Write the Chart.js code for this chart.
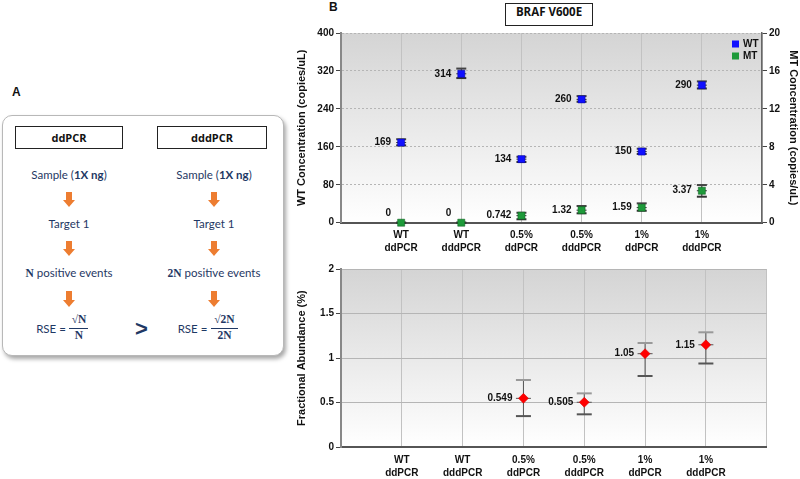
<!DOCTYPE html>
<html>
<head>
<meta charset="utf-8">
<script src="https://cdn.jsdelivr.net/npm/chart.js@4.4.0/dist/chart.umd.min.js"></script>
<style>
  body { margin: 0; width: 800px; height: 479px; overflow: hidden; position: relative; background: #fff; font-family: Lato, "Open Sans", sans-serif; }
  .abs { position: absolute; }
  .panel-letter { font: bold 12px "Liberation Sans", Arial, sans-serif; color: #111; }
  .frame { left: 2px; top: 115px; width: 280px; height: 239px; border: 1.5px solid #b8b8b8; border-radius: 10px; box-shadow: 2px 3px 4px rgba(0,0,0,0.35); background: #fff; }
  .head { height: 21px; border: 1.5px solid #222; font: bold 11px "Open Sans", sans-serif; color: #111; text-align: center; line-height: 21px; background: #fff; }
  .step { width: 140px; text-align: center; color: #1f3864; font-size: 11.5px; line-height: 14px; }
  .math { font-family: "Liberation Serif", "DejaVu Serif", serif; font-weight: bold; }
  .frac { text-align: center; color: #1f3864; font: bold 11.5px "Liberation Serif", serif; line-height: 13px; }
  .bar { height: 1px; background: #1f3864; }
  .title-box { left: 505px; top: 3px; width: 86px; height: 21px; border: 1.5px solid #222; text-align: center; line-height: 21px; font: bold 11.5px "Open Sans", sans-serif; color: #111; background: #fff; }
  canvas { position: absolute; }
</style>
</head>
<body>
<!-- panel A -->
<div class="abs panel-letter" style="left:12px;top:85px">A</div>
<div class="abs frame"></div>
<div class="abs head" style="left:15px;top:126px;width:106px">ddPCR</div>
<div class="abs head" style="left:157px;top:126px;width:108px">dddPCR</div>

<div class="abs step" style="left:-1px;top:168px">Sample (<b>1X ng</b>)</div>
<div class="abs step" style="left:144px;top:168px">Sample (<b>1X ng</b>)</div>
<div class="abs step" style="left:-1px;top:217px">Target 1</div>
<div class="abs step" style="left:144px;top:217px">Target 1</div>
<div class="abs step" style="left:-1px;top:266px"><span class="math">N</span> positive events</div>
<div class="abs step" style="left:144px;top:266px"><span class="math">2N</span> positive events</div>

<svg class="abs" style="left:63px;top:192px" width="12" height="16"><polygon points="3,0 9,0 9,8 12,8 6,15 0,8 3,8" fill="#ed7d31"/></svg>
<svg class="abs" style="left:208px;top:192px" width="12" height="16"><polygon points="3,0 9,0 9,8 12,8 6,15 0,8 3,8" fill="#ed7d31"/></svg>
<svg class="abs" style="left:63px;top:241px" width="12" height="16"><polygon points="3,0 9,0 9,8 12,8 6,15 0,8 3,8" fill="#ed7d31"/></svg>
<svg class="abs" style="left:208px;top:241px" width="12" height="16"><polygon points="3,0 9,0 9,8 12,8 6,15 0,8 3,8" fill="#ed7d31"/></svg>
<svg class="abs" style="left:63px;top:291px" width="12" height="17"><polygon points="3,0 9,0 9,9 12,9 6,16 0,9 3,9" fill="#ed7d31"/></svg>
<svg class="abs" style="left:208px;top:291px" width="12" height="17"><polygon points="3,0 9,0 9,9 12,9 6,16 0,9 3,9" fill="#ed7d31"/></svg>

<div class="abs step" style="left:-4px;top:322px;width:110px">RSE =</div>
<div class="abs frac" style="left:69px;top:313px;width:20px">√N</div>
<div class="abs bar" style="left:69px;top:328px;width:19px"></div>
<div class="abs frac" style="left:69px;top:329px;width:20px">N</div>
<div class="abs" style="left:135px;top:316px;font:bold 22px 'Liberation Sans',sans-serif;color:#1f3864">&gt;</div>
<div class="abs step" style="left:150px;top:322px;width:85px">RSE =</div>
<div class="abs frac" style="left:211px;top:313px;width:27px">√2N</div>
<div class="abs bar" style="left:211px;top:328px;width:27px"></div>
<div class="abs frac" style="left:211px;top:329px;width:27px">2N</div>

<!-- panel B -->
<div class="abs panel-letter" style="left:329px;top:0px">B</div>
<canvas id="conc" width="550" height="262" style="left:250px;top:0px"></canvas>
<canvas id="frac" width="550" height="221" style="left:250px;top:258px"></canvas>
<div class="abs title-box">BRAF V600E</div>

<script>
// categories and values
const categories = [["WT", "ddPCR"], ["WT", "dddPCR"], ["0.5%", "ddPCR"], ["0.5%", "dddPCR"], ["1%", "ddPCR"], ["1%", "dddPCR"]];
const wtValues = [169, 314, 134, 260, 150, 290];
const wtLow = [163, 305, 128, 255, 145, 283];
const wtHigh = [176, 325, 139, 267, 156, 298];
const mtValues = [0, 0, 0.742, 1.32, 1.59, 3.37];
const mtLow = [0, 0, 0.36, 0.99, 1.26, 2.74];
const mtHigh = [0, 0, 1.05, 1.76, 2.04, 3.97];
const fracValues = [null, null, 0.549, 0.505, 1.05, 1.15];
const fracLow = [null, null, 0.35, 0.37, 0.80, 0.94];
const fracHigh = [null, null, 0.755, 0.605, 1.17, 1.29];
const wtTicks = [0, 80, 160, 240, 320, 400];
const mtTicks = [0, 4, 8, 12, 16, 20];
const fracTicks = [0, 0.5, 1, 1.5, 2];
const xTicks = [-1, 0, 1, 2, 3, 4, 5, 6];

const boldFont = { family: "Liberation Sans", size: 10, weight: "bold" };
const titleFont = { family: "Liberation Sans", size: 11, weight: "bold" };

const points = (vals) => vals.map((v, i) => ({ x: i, y: v })).filter(p => p.y !== null);

// grey-to-white plot background
const plotBg = {
    id: "plotBg",
    beforeDraw(chart) {
        const { ctx, chartArea: a } = chart;
        const g = ctx.createLinearGradient(0, a.top, 0, a.bottom);
        g.addColorStop(0, "#d4d4d4");
        g.addColorStop(1, "#ffffff");
        ctx.save();
        ctx.fillStyle = g;
        ctx.fillRect(a.left, a.top, a.right - a.left, a.bottom - a.top);
        ctx.restore();
    }
};

// error bars from errLow / errHigh on each dataset
const errorBars = {
    id: "errorBars",
    beforeDatasetsDraw(chart) {
        const ctx = chart.ctx;
        chart.data.datasets.forEach(ds => {
            if (!ds.errLow) return;
            const xs = chart.scales.x;
            const ys = chart.scales[ds.yAxisID || "y"];
            const w = ds.capWidth / 2;
            ds.data.forEach(p => {
                const x = xs.getPixelForValue(p.x);
                const yv = ys.getPixelForValue(p.y);
                const lo = ys.getPixelForValue(ds.errLow[p.x]);
                const hi = ys.getPixelForValue(ds.errHigh[p.x]);
                ctx.save();
                ctx.strokeStyle = ds.errColor;
                ctx.lineWidth = 1;
                ctx.beginPath();
                ctx.moveTo(x, hi); ctx.lineTo(x, lo);
                ctx.moveTo(x - w, yv); ctx.lineTo(x + w, yv);
                ctx.stroke();
                ctx.lineWidth = 2;
                ctx.strokeStyle = ds.capTopColor;
                ctx.beginPath(); ctx.moveTo(x - w, hi); ctx.lineTo(x + w, hi); ctx.stroke();
                ctx.strokeStyle = ds.errColor;
                ctx.beginPath(); ctx.moveTo(x - w, lo); ctx.lineTo(x + w, lo); ctx.stroke();
                ctx.restore();
            });
        });
    }
};

// value labels left of each point
const valueLabels = {
    id: "valueLabels",
    afterDatasetsDraw(chart) {
        const ctx = chart.ctx;
        ctx.save();
        ctx.font = "bold 10px 'Liberation Sans'";
        ctx.fillStyle = "#111";
        ctx.textAlign = "right";
        ctx.textBaseline = "middle";
        chart.data.datasets.forEach(ds => {
            const ys = chart.scales[ds.yAxisID || "y"];
            ds.data.forEach(p => {
                const x = chart.scales.x.getPixelForValue(p.x);
                let y = ys.getPixelForValue(p.y);
                if (y > chart.chartArea.bottom - 4) y -= 9; // zero values sit on the axis
                ctx.fillText(String(p.y), x - ds.labelGap, y);
            });
        });
        ctx.restore();
    }
};

// small legend in the top right corner of the plot
const cornerLegend = {
    id: "cornerLegend",
    afterDraw(chart) {
        const { ctx, chartArea: a } = chart;
        ctx.save();
        ctx.font = "bold 10px 'Liberation Sans'";
        ctx.textBaseline = "middle";
        chart.data.datasets.forEach((ds, i) => {
            const y = a.top + 11 + i * 12;
            ctx.fillStyle = ds.backgroundColor;
            ctx.fillRect(a.right - 30, y - 3.5, 7, 7);
            ctx.fillStyle = "#111";
            ctx.fillText(ds.label, a.right - 19, y);
        });
        ctx.restore();
    }
};

const xAxis = (height) => ({
    type: "linear",
    min: -1,
    max: 6,
    afterBuildTicks: s => { s.ticks = xTicks.map(v => ({ value: v })); },
    afterFit: s => { s.height = height; },
    ticks: {
        autoSkip: false,
        maxRotation: 0,
        padding: 6,
        font: { ...boldFont, lineHeight: 1.3 },
        color: "#111",
        callback: v => categories[v] || ""
    },
    grid: { color: "#c2c2c2", lineWidth: 1, drawTicks: false },
    border: { color: "#555", width: 2 }
});

const leftAxis = (ticks, max, title, dash) => ({
    type: "linear",
    position: "left",
    min: 0,
    max: max,
    afterBuildTicks: s => { s.ticks = ticks.map(v => ({ value: v })); },
    afterFit: s => { s.width = 50; },
    ticks: { font: boldFont, color: "#111", padding: 2, callback: v => String(v) },
    grid: { color: "#b5b5b5", tickLength: 5, tickColor: "#444" },
    border: { color: "#888", width: 2, dash: dash },
    title: { display: true, text: title, font: titleFont, color: "#111" }
});

new Chart(document.getElementById("conc"), {
    type: "scatter",
    data: {
        datasets: [
            {
                label: "WT",
                data: points(wtValues),
                yAxisID: "y",
                pointStyle: "rect",
                pointRadius: 5,
                backgroundColor: "#1010ff",
                borderColor: "#0000a0",
                borderWidth: 0.5,
                errLow: wtLow,
                errHigh: wtHigh,
                capWidth: 10,
                errColor: "#333",
                capTopColor: "#444",
                labelGap: 10
            },
            {
                label: "MT",
                data: points(mtValues),
                yAxisID: "y1",
                pointStyle: "rect",
                pointRadius: 5,
                backgroundColor: "#1e9a3a",
                borderColor: "#0c5a1e",
                borderWidth: 0.5,
                errLow: mtLow,
                errHigh: mtHigh,
                capWidth: 10,
                errColor: "#333",
                capTopColor: "#444",
                labelGap: 10
            }
        ]
    },
    options: {
        responsive: false,
        animation: false,
        devicePixelRatio: 1,
        clip: false,
        layout: { padding: { top: 33, left: 41, right: 0, bottom: 0 } },
        plugins: { legend: { display: false }, tooltip: { enabled: false } },
        scales: {
            x: xAxis(39.3),
            y: leftAxis(wtTicks, 400, "WT Concentration (copies/uL)", [2, 2]),
            y1: {
                type: "linear",
                position: "right",
                min: 0,
                max: 20,
                afterBuildTicks: s => { s.ticks = mtTicks.map(v => ({ value: v })); },
                afterFit: s => { s.width = 38; },
                ticks: { font: boldFont, color: "#111", padding: 2 },
                grid: { drawOnChartArea: false, tickLength: 5, tickColor: "#444" },
                border: { color: "#666", width: 1.5 },
                title: { display: true, text: "MT Concentration (copies/uL)", font: titleFont, color: "#111", padding: 0 }
            }
        }
    },
    plugins: [plotBg, errorBars, valueLabels, cornerLegend]
});

new Chart(document.getElementById("frac"), {
    type: "scatter",
    data: {
        datasets: [
            {
                label: "Fractional Abundance",
                data: points(fracValues),
                pointStyle: "rectRot",
                pointRadius: 5,
                backgroundColor: "#ff0000",
                borderColor: "#d00000",
                borderWidth: 0.5,
                errLow: fracLow,
                errHigh: fracHigh,
                capWidth: 15,
                errColor: "#555",
                capTopColor: "#999",
                labelGap: 11
            }
        ]
    },
    options: {
        responsive: false,
        animation: false,
        devicePixelRatio: 1,
        clip: false,
        layout: { padding: { top: 11, left: 41, right: 33.3, bottom: 0 } },
        plugins: { legend: { display: false }, tooltip: { enabled: false } },
        scales: {
            x: xAxis(31.7),
            y: leftAxis(fracTicks, 2, "Fractional Abundance (%)", [])
        }
    },
    plugins: [plotBg, errorBars, valueLabels]
});
</script>
</body>
</html>
